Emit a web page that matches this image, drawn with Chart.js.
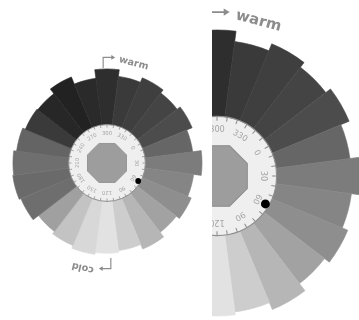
<!DOCTYPE html>
<html>
<head>
<meta charset="utf-8">
<script src="https://cdn.jsdelivr.net/npm/chart.js@4.4.0/dist/chart.umd.min.js"></script>
<style>
  html, body { margin: 0; padding: 0; background: #fff; }
  body { width: 359px; height: 320px; position: relative; overflow: hidden; }
  .panel { position: absolute; top: 0; height: 320px; overflow: hidden; }
  #full { left: 0; width: 206px; }
  #zoom { left: 212px; width: 147px; }
  canvas { position: absolute; top: 0; }
</style>
</head>
<body>
<div class="panel" id="full"><canvas id="wheelFull" width="206" height="320" style="left:0"></canvas></div>
<div class="panel" id="zoom"><canvas id="wheelZoom" width="330" height="340" style="left:-160px"></canvas></div>
<script>
// hue wheel, 24 wedges, clockwise from the top ("warm")
const hues = [0, 15, 30, 45, 60, 75, 90, 105, 120, 135, 150, 165,
              180, 195, 210, 225, 240, 255, 270, 285, 300, 315, 330, 345];
const radii = [98, 91, 96, 92, 96, 90, 99, 91, 95, 91, 97, 92,
               94, 96, 93, 90, 97, 99, 98, 95, 92, 91, 97, 89];
const ringLabels = ['300', '330', '0', '30', '60', '90', '120', '150', '180', '210', '240', '270'];
const markerAngle = 120;

const shades = ['#2e2e2e', '#3a3a3a', '#3f3f3f', '#444444', '#4c4c4c', '#666666',
                '#7c7c7c', '#858585', '#8e8e8e', '#a2a2a2', '#b6b6b6', '#cdcdcd',
                '#e2e2e2', '#d8d8d8', '#c3c3c3', '#a0a0a0', '#6e6e6e', '#6a6a6a',
                '#6f6f6f', '#646464', '#3a3a3a', '#272727', '#222222', '#2a2a2a'];

const wheelDeco = {
  id: 'wheelDeco',
  afterDatasetsDraw(chart) {
    const { ctx } = chart;
    const s = chart.scales.r;
    const cx = s.xCenter, cy = s.yCenter, u = s.drawingArea;
    const rad = (d) => d * Math.PI / 180;
    const at = (deg, k) => [cx + Math.sin(rad(deg)) * k * u, cy - Math.cos(rad(deg)) * k * u];

    ctx.save();
    // white dial
    ctx.beginPath();
    ctx.arc(cx, cy, 0.4 * u, 0, Math.PI * 2);
    ctx.fillStyle = '#efefef';
    ctx.fill();
    ctx.lineWidth = Math.max(1, u * 0.008);
    ctx.strokeStyle = '#8f8f8f';
    ctx.stroke();

    ctx.lineWidth = Math.max(0.8, u * 0.007);
    for (let d = 0; d < 360; d += 10) {
      const [x1, y1] = at(d, 0.4);
      const [x2, y2] = at(d, 0.37);
      ctx.beginPath();
      ctx.moveTo(x1, y1);
      ctx.lineTo(x2, y2);
      ctx.stroke();
    }

    // octagon in the middle
    ctx.beginPath();
    for (let i = 0; i < 8; i++) {
      const [x, y] = at(22.5 + 45 * i, 0.22);
      if (i) ctx.lineTo(x, y); else ctx.moveTo(x, y);
    }
    ctx.closePath();
    ctx.fillStyle = '#9d9d9d';
    ctx.fill();
    ctx.strokeStyle = '#8c8c8c';
    ctx.stroke();

    // degree labels round the dial
    ctx.fillStyle = '#a5a5a5';
    ctx.font = `${(0.055 * u).toFixed(1)}px "DejaVu Sans"`;
    ctx.textAlign = 'center';
    ctx.textBaseline = 'middle';
    ringLabels.forEach((t, i) => {
      const d = i * 30;
      const [x, y] = at(d, 0.31);
      ctx.save();
      ctx.translate(x, y);
      ctx.rotate(rad(d));
      ctx.fillText(t, 0, 0);
      ctx.restore();
    });

    // marker
    const [mx, my] = at(markerAngle, 0.375);
    ctx.beginPath();
    ctx.arc(mx, my, 0.03 * u, 0, Math.PI * 2);
    ctx.fillStyle = '#000';
    ctx.fill();

    // warm / cold arrows
    ctx.strokeStyle = '#8c8c8c';
    ctx.fillStyle = '#8c8c8c';
    ctx.lineWidth = Math.max(1, u * 0.012);
    const arrow = (sgn) => {
      const x0 = cx - sgn * 0.04 * u, y0 = cy - sgn * 0.99 * u;
      const y1 = cy - sgn * 1.1 * u, x1 = cx + sgn * 0.085 * u;
      ctx.beginPath();
      ctx.moveTo(x0, y0);
      ctx.lineTo(x0, y1);
      ctx.lineTo(x1 - sgn * 0.03 * u, y1);
      ctx.stroke();
      ctx.beginPath();
      ctx.moveTo(x1, y1);
      ctx.lineTo(x1 - sgn * 0.04 * u, y1 - 0.025 * u);
      ctx.lineTo(x1 - sgn * 0.04 * u, y1 + 0.025 * u);
      ctx.closePath();
      ctx.fill();
    };
    arrow(1);
    arrow(-1);

    ctx.font = `bold ${(0.1 * u).toFixed(1)}px "DejaVu Sans"`;
    [['warm', 15, 1.075], ['cold', 193, 1.12]].forEach(([t, d, k]) => {
      const [x, y] = at(d, k);
      ctx.save();
      ctx.translate(x, y);
      ctx.rotate(rad(d));
      ctx.fillText(t, 0, 0);
      ctx.restore();
    });
    ctx.restore();
  },
};

function makeWheel(id, padding) {
  return new Chart(document.getElementById(id), {
    type: 'polarArea',
    data: {
      labels: hues.map((h) => h + '°'),
      datasets: [{
        data: radii,
        backgroundColor: shades,
        borderColor: shades,
        borderWidth: 0.6,
      }],
    },
    options: {
      responsive: false,
      animation: false,
      events: [],
      layout: { padding },
      plugins: {
        legend: { display: false },
        tooltip: { enabled: false },
      },
      scales: {
        r: {
          display: false,
          min: 0,
          max: 100,
          startAngle: -7.5,
        },
      },
    },
    plugins: [wheelDeco],
  });
}

makeWheel('wheelFull', { left: 11, right: 3, top: 67, bottom: 61 });
makeWheel('wheelZoom', { left: 16, right: 16, top: 27, bottom: 15 });
</script>
</body>
</html>
